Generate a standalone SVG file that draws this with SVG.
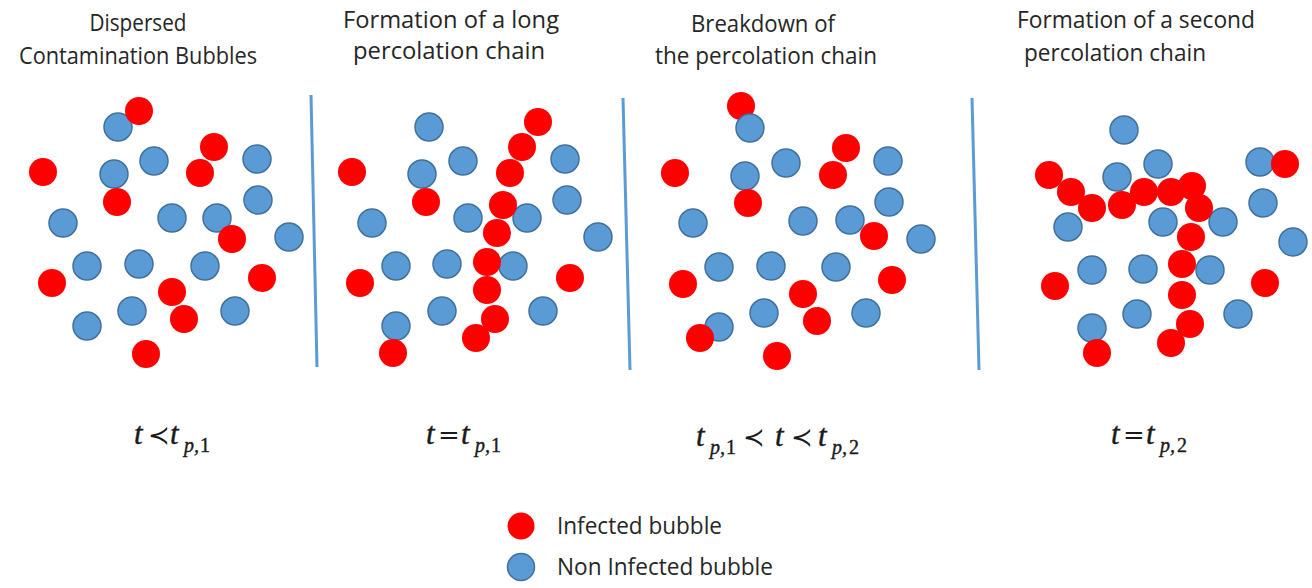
<svg xmlns="http://www.w3.org/2000/svg" width="1312" height="588" viewBox="0 0 1312 588">
<style>
.title{font-family:"Open Sans","Liberation Sans",sans-serif;font-size:23px;fill:#262626;text-anchor:middle}
.leg{font-family:"Open Sans","Liberation Sans",sans-serif;font-size:23px;fill:#262626}
.inf{fill:#ff0000}
.non{fill:#5b9bd5;stroke:#41719c;stroke-width:1.5}
.div{stroke:#5b9bd5;stroke-width:3;fill:none}
.f{font-family:"Liberation Serif","Times New Roman",serif;font-style:italic;font-size:31px;fill:#1a1a1a;stroke:#1a1a1a;stroke-width:0.4}
.fs{font-size:20px}
.op{font-family:"DejaVu Serif","Liberation Serif",serif;font-style:normal;font-size:26px;stroke-width:0}
</style>
<rect width="1312" height="588" fill="#ffffff"/>

<g id="titles">
<text class="title" x="138" y="31" textLength="97" lengthAdjust="spacingAndGlyphs">Dispersed</text>
<text class="title" x="138" y="64" textLength="238" lengthAdjust="spacingAndGlyphs">Contamination Bubbles</text>
<text class="title" x="451" y="28" textLength="216" lengthAdjust="spacingAndGlyphs">Formation of a long</text>
<text class="title" x="449" y="59" textLength="192" lengthAdjust="spacingAndGlyphs">percolation chain</text>
<text class="title" x="763" y="32" textLength="144" lengthAdjust="spacingAndGlyphs">Breakdown of</text>
<text class="title" x="766" y="64" textLength="222" lengthAdjust="spacingAndGlyphs">the percolation chain</text>
<text class="title" x="1136" y="28" textLength="238" lengthAdjust="spacingAndGlyphs">Formation of a second</text>
<text class="title" x="1115" y="61" textLength="182" lengthAdjust="spacingAndGlyphs">percolation chain</text>
</g>

<g id="dividers">
<line class="div" x1="311" y1="95" x2="317" y2="367"/>
<line class="div" x1="623" y1="98" x2="630" y2="370"/>
<line class="div" x1="972" y1="98" x2="979" y2="370"/>
</g>

<g id="panel1">
<circle class="non" cx="118" cy="127" r="14"/>
<circle class="non" cx="154" cy="161" r="14"/>
<circle class="non" cx="114" cy="174" r="14"/>
<circle class="non" cx="257" cy="159" r="14"/>
<circle class="non" cx="258" cy="200" r="14"/>
<circle class="non" cx="63" cy="223" r="14"/>
<circle class="non" cx="172" cy="218" r="14"/>
<circle class="non" cx="217" cy="218" r="14"/>
<circle class="non" cx="289" cy="237" r="14"/>
<circle class="non" cx="87" cy="266" r="14"/>
<circle class="non" cx="139" cy="264" r="14"/>
<circle class="non" cx="205" cy="266" r="14"/>
<circle class="non" cx="132" cy="311" r="14"/>
<circle class="non" cx="87" cy="326" r="14"/>
<circle class="non" cx="235" cy="311" r="14"/>
<circle class="inf" cx="139" cy="111" r="14"/>
<circle class="inf" cx="43" cy="172" r="14"/>
<circle class="inf" cx="214" cy="147" r="14"/>
<circle class="inf" cx="200" cy="173" r="14"/>
<circle class="inf" cx="117" cy="202" r="14"/>
<circle class="inf" cx="232" cy="239" r="14"/>
<circle class="inf" cx="52" cy="283" r="14"/>
<circle class="inf" cx="262" cy="278" r="14"/>
<circle class="inf" cx="172" cy="292" r="14"/>
<circle class="inf" cx="184" cy="319" r="14"/>
<circle class="inf" cx="146" cy="354" r="14"/>
</g>

<g id="panel2">
<circle class="non" cx="429" cy="127" r="14"/>
<circle class="non" cx="463" cy="161" r="14"/>
<circle class="non" cx="422" cy="174" r="14"/>
<circle class="non" cx="565" cy="159" r="14"/>
<circle class="non" cx="567" cy="200" r="14"/>
<circle class="non" cx="372" cy="223" r="14"/>
<circle class="non" cx="468" cy="218" r="14"/>
<circle class="non" cx="527" cy="218" r="14"/>
<circle class="non" cx="598" cy="237" r="14"/>
<circle class="non" cx="396" cy="266" r="14"/>
<circle class="non" cx="447" cy="264" r="14"/>
<circle class="non" cx="513" cy="266" r="14"/>
<circle class="non" cx="442" cy="311" r="14"/>
<circle class="non" cx="396" cy="326" r="14"/>
<circle class="non" cx="543" cy="311" r="14"/>
<circle class="inf" cx="538" cy="122" r="14"/>
<circle class="inf" cx="522" cy="147" r="14"/>
<circle class="inf" cx="510" cy="173" r="14"/>
<circle class="inf" cx="352" cy="172" r="14"/>
<circle class="inf" cx="426" cy="202" r="14"/>
<circle class="inf" cx="503" cy="205" r="14"/>
<circle class="inf" cx="497" cy="233" r="14"/>
<circle class="inf" cx="487" cy="262" r="14"/>
<circle class="inf" cx="487" cy="290" r="14"/>
<circle class="inf" cx="495" cy="319" r="14"/>
<circle class="inf" cx="476" cy="338" r="14"/>
<circle class="inf" cx="360" cy="283" r="14"/>
<circle class="inf" cx="570" cy="278" r="14"/>
<circle class="inf" cx="393" cy="353" r="14"/>
</g>

<g id="panel3">
<circle class="inf" cx="741" cy="106" r="14"/>
<circle class="non" cx="750" cy="128" r="14"/>
<circle class="non" cx="786" cy="163" r="14"/>
<circle class="non" cx="745" cy="176" r="14"/>
<circle class="non" cx="888" cy="161" r="14"/>
<circle class="non" cx="889" cy="202" r="14"/>
<circle class="non" cx="693" cy="223" r="14"/>
<circle class="non" cx="803" cy="221" r="14"/>
<circle class="non" cx="850" cy="220" r="14"/>
<circle class="non" cx="921" cy="239" r="14"/>
<circle class="non" cx="719" cy="267" r="14"/>
<circle class="non" cx="771" cy="266" r="14"/>
<circle class="non" cx="836" cy="267" r="14"/>
<circle class="non" cx="764" cy="313" r="14"/>
<circle class="non" cx="719" cy="327" r="14"/>
<circle class="non" cx="866" cy="313" r="14"/>
<circle class="inf" cx="675" cy="173" r="14"/>
<circle class="inf" cx="846" cy="148" r="14"/>
<circle class="inf" cx="833" cy="175" r="14"/>
<circle class="inf" cx="748" cy="203" r="14"/>
<circle class="inf" cx="874" cy="236" r="14"/>
<circle class="inf" cx="683" cy="284" r="14"/>
<circle class="inf" cx="892" cy="280" r="14"/>
<circle class="inf" cx="803" cy="294" r="14"/>
<circle class="inf" cx="817" cy="321" r="14"/>
<circle class="inf" cx="700" cy="338" r="14"/>
<circle class="inf" cx="777" cy="356" r="14"/>
</g>

<g id="panel4">
<circle class="non" cx="1124" cy="130" r="14"/>
<circle class="non" cx="1158" cy="164" r="14"/>
<circle class="non" cx="1117" cy="177" r="14"/>
<circle class="non" cx="1260" cy="162" r="14"/>
<circle class="non" cx="1263" cy="203" r="14"/>
<circle class="non" cx="1068" cy="227" r="14"/>
<circle class="non" cx="1163" cy="222" r="14"/>
<circle class="non" cx="1223" cy="222" r="14"/>
<circle class="non" cx="1293" cy="242" r="14"/>
<circle class="non" cx="1092" cy="270" r="14"/>
<circle class="non" cx="1143" cy="269" r="14"/>
<circle class="non" cx="1210" cy="270" r="14"/>
<circle class="non" cx="1137" cy="314" r="14"/>
<circle class="non" cx="1092" cy="328" r="14"/>
<circle class="non" cx="1238" cy="314" r="14"/>
<circle class="inf" cx="1049" cy="175" r="14"/>
<circle class="inf" cx="1071" cy="192" r="14"/>
<circle class="inf" cx="1092" cy="208" r="14"/>
<circle class="inf" cx="1122" cy="205" r="14"/>
<circle class="inf" cx="1144" cy="192" r="14"/>
<circle class="inf" cx="1171" cy="192" r="14"/>
<circle class="inf" cx="1192" cy="186" r="14"/>
<circle class="inf" cx="1199" cy="208" r="14"/>
<circle class="inf" cx="1191" cy="237" r="14"/>
<circle class="inf" cx="1182" cy="264" r="14"/>
<circle class="inf" cx="1182" cy="295" r="14"/>
<circle class="inf" cx="1190" cy="324" r="14"/>
<circle class="inf" cx="1171" cy="343" r="14"/>
<circle class="inf" cx="1097" cy="353" r="14"/>
<circle class="inf" cx="1055" cy="286" r="14"/>
<circle class="inf" cx="1265" cy="283" r="14"/>
<circle class="inf" cx="1285" cy="164" r="14"/>
</g>

<g id="formulas">
<text class="f" y="444"><tspan x="134">t</tspan><tspan class="op" x="148">≺</tspan><tspan x="170">t</tspan><tspan class="fs" x="184" y="452">p</tspan><tspan class="fs" x="194" y="452">,</tspan><tspan class="fs" style="font-style:normal" x="200" y="452">1</tspan></text>
<text class="f" y="444"><tspan x="426">t</tspan><tspan class="op" x="438">=</tspan><tspan x="461">t</tspan><tspan class="fs" x="475" y="452">p</tspan><tspan class="fs" x="485" y="452">,</tspan><tspan class="fs" style="font-style:normal" x="491" y="452">1</tspan></text>
<text class="f" y="446"><tspan x="696">t</tspan><tspan class="fs" x="710" y="454">p</tspan><tspan class="fs" x="720" y="454">,</tspan><tspan class="fs" style="font-style:normal" x="726" y="454">1</tspan><tspan class="op" x="743" y="446">≺</tspan><tspan x="775" y="446">t</tspan><tspan class="op" x="791" y="446">≺</tspan><tspan x="818" y="446">t</tspan><tspan class="fs" x="832" y="454">p</tspan><tspan class="fs" x="842" y="454">,</tspan><tspan class="fs" style="font-style:normal" x="849" y="454">2</tspan></text>
<text class="f" y="444"><tspan x="1111">t</tspan><tspan class="op" x="1123">=</tspan><tspan x="1146">t</tspan><tspan class="fs" x="1160" y="452">p</tspan><tspan class="fs" x="1170" y="452">,</tspan><tspan class="fs" style="font-style:normal" x="1177" y="452">2</tspan></text>
</g>

<g id="legend">
<g id="legend-infected">
<circle class="inf" cx="521" cy="526" r="13.5"/>
<text class="leg" x="557" y="534" textLength="165" lengthAdjust="spacingAndGlyphs">Infected bubble</text>
</g>
<g id="legend-non-infected">
<circle class="non" cx="521" cy="567" r="13.5"/>
<text class="leg" x="557" y="575" textLength="216" lengthAdjust="spacingAndGlyphs">Non Infected bubble</text>
</g>
</g>
</svg>
